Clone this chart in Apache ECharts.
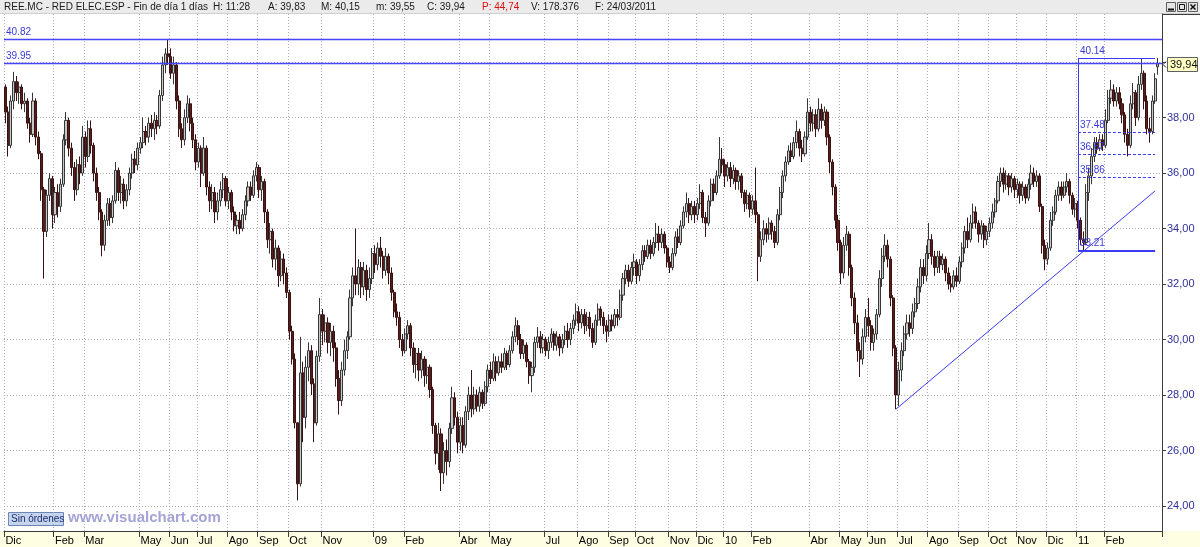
<!DOCTYPE html>
<html><head><meta charset="utf-8">
<script src="https://cdn.jsdelivr.net/npm/echarts@6/dist/echarts.min.js"></script>
<style>html,body{margin:0;padding:0;background:#fff}#c{width:1200px;height:547px}</style>
</head><body><div id="c"></div>
<script>
// Candles [open, close, low, high], 2 sessions per candle
const ohlc2007_08 = [
[39.1,38.2,37.8,39.2],[38.2,37.0,36.6,38.4],[37.0,38.6,36.9,38.8],[38.6,39.3,38.3,39.65],[39.3,38.9,38.6,39.5],[38.9,39.1,38.5,39.3],[39.1,38.5,38.3,39.2],[38.5,38.6,38.2,38.9],[38.6,37.8,37.6,38.7],[37.8,37.4,37.1,38.0],
[37.4,38.6,37.3,38.9],[38.6,37.3,37.0,38.7],[37.3,36.7,36.5,37.5],[36.7,35.4,35.0,36.8],[35.4,33.9,32.2,35.5],[33.9,35.2,33.7,35.4],[35.2,35.8,35.0,36.0],[35.8,34.5,34.0,35.9],[34.5,35.3,34.2,35.5],[35.3,34.8,34.4,35.6],
[34.8,35.6,34.6,35.8],[35.6,37.2,35.5,37.4],[37.2,37.9,37.0,38.2],[37.9,36.9,36.6,38.0],[36.9,36.2,35.9,37.1],[36.2,35.4,35.0,36.4],[35.4,36.3,35.2,36.5],[36.3,36.0,35.6,36.6],[36.0,37.3,35.9,37.7],[37.3,36.6,36.2,37.5],
[36.6,37.6,36.4,37.9],[37.6,37.0,36.7,37.9],[37.0,36.0,35.7,37.1],[36.0,35.3,35.0,36.2],[35.3,34.6,34.3,35.5],[34.6,33.4,33.0,34.7],[33.4,34.3,33.2,34.5],[34.3,34.9,34.1,35.1],[34.9,34.4,34.1,35.1],[34.4,35.0,34.2,35.2],
[35.0,36.1,34.9,36.4],[36.1,35.3,35.0,36.2],[35.3,35.6,34.9,35.9],[35.6,35.0,34.7,35.8],[35.0,35.4,34.8,35.6],[35.4,36.0,35.2,36.2],[36.0,36.5,35.8,36.7],[36.5,36.3,36.0,36.8],[36.3,36.9,36.1,37.1],[36.9,37.1,36.7,37.3],
[37.1,37.5,36.9,38.0],[37.5,37.3,37.0,37.7],[37.3,37.8,37.1,38.0],[37.8,37.6,37.3,38.1],[37.6,37.9,37.2,38.2],[37.9,37.7,37.4,38.1],[37.7,38.8,37.6,39.0],[38.8,39.9,38.6,40.2],[39.9,40.3,39.6,40.5],[40.3,40.2,39.9,40.82],
[40.2,39.6,39.4,40.5],[39.6,39.9,39.2,40.2],[39.9,38.6,38.3,40.0],[38.6,37.6,37.3,38.8],[37.6,37.2,36.9,37.8],[37.2,38.0,37.0,38.3],[38.0,38.5,37.8,38.8],[38.5,37.8,37.5,38.7],[37.8,37.2,36.9,38.0],[37.2,36.4,36.1,37.4],
[36.4,36.9,36.2,37.1],[36.9,36.0,35.5,37.0],[36.0,36.9,35.9,37.3],[36.9,35.5,35.2,37.0],[35.5,35.0,34.6,35.7],[35.0,35.3,34.7,35.6],[35.3,34.6,34.2,35.5],[34.6,35.0,34.3,35.3],[35.0,35.4,34.8,35.7],[35.4,35.8,35.1,36.0],
[35.8,35.0,34.8,35.9],[35.0,35.3,34.7,35.5],[35.3,34.6,34.3,35.4],[34.6,34.1,33.9,34.8],[34.1,34.3,33.8,34.5],[34.3,34.0,33.8,34.6],[34.0,34.5,33.9,34.7],[34.5,35.0,34.3,35.2],[35.0,35.5,34.8,35.7],[35.5,35.2,35.0,35.7],
[35.2,35.9,35.1,36.1],[35.9,36.2,35.7,36.4],[36.2,35.4,35.1,36.3],[35.4,35.7,35.0,35.9],[35.7,34.6,34.2,35.8],[34.6,33.6,33.3,34.7],[33.6,33.9,33.1,34.2],[33.9,32.9,32.6,34.0],[32.9,33.3,32.5,33.6],[33.3,32.3,31.9,33.4],
[32.3,32.9,32.1,33.2],[32.9,32.4,32.0,33.1],[32.4,31.7,31.5,32.6],[31.7,30.3,30.0,31.8],[30.3,29.3,29.1,30.5],[29.3,27.0,26.8,29.5],[27.0,24.8,24.2,27.0],[24.8,28.8,24.7,30.1],[28.8,27.2,26.3,29.2],[27.2,29.0,26.8,29.4],
[29.0,29.6,28.5,29.9],[29.6,28.4,28.0,29.8],[28.4,27.0,26.3,28.6],[27.0,29.4,26.9,29.6],[29.4,30.9,29.2,31.5],[30.9,30.3,29.8,31.1],[30.3,30.6,29.9,30.9],[30.6,29.9,29.5,30.8],[29.9,30.3,29.4,30.6],[30.3,29.7,29.2,30.5],
[29.7,28.6,28.3,29.9],[28.6,27.8,27.3,28.9],[27.8,28.9,27.6,29.2],[28.9,29.6,28.7,30.0],[29.6,30.1,29.3,30.3],[30.1,31.5,30.0,31.8],[31.5,32.3,31.2,32.6],[32.3,32.0,31.6,34.0],[32.0,32.6,31.6,32.9],[32.6,31.9,31.5,32.8],
[31.9,32.5,31.6,32.8],[32.5,31.8,31.4,32.7],[31.8,32.2,31.5,32.6],[32.2,33.1,32.0,33.3]
];
const ohlc2009 = [
[33.1,32.7,32.4,33.4],[32.7,33.3,32.5,33.5],[33.3,33.0,32.6,33.7],[33.0,32.5,32.2,33.2],[32.5,33.0,32.3,33.3],[33.0,32.4,32.0,33.1],
[32.4,31.7,31.4,32.6],[31.7,31.0,30.8,31.8],[31.0,30.8,30.5,31.3],[30.8,30.0,29.7,31.0],[30.0,29.6,29.4,30.2],[29.6,30.2,29.5,30.4],[30.2,30.5,30.0,30.7],[30.5,29.7,29.4,30.6],[29.7,29.1,28.8,29.9],[29.1,29.5,28.6,29.7],
[29.5,28.9,28.5,29.7],[28.9,29.3,28.6,29.6],[29.3,28.7,28.3,29.4],[28.7,29.0,28.4,29.3],[29.0,28.2,27.9,29.1],[28.2,26.9,26.6,28.3],[26.9,25.9,25.5,27.0],[25.9,26.6,25.3,27.0],[26.6,25.2,24.54,26.8],[25.2,26.0,24.8,26.3],
[26.0,25.6,25.1,26.4],[25.6,26.8,25.4,27.0],[26.8,27.9,26.6,28.3],[27.9,27.2,26.9,28.1],[27.2,26.3,25.9,27.4],[26.3,26.9,26.0,27.2],[26.9,26.2,25.9,27.2],[26.2,27.4,26.1,27.6],[27.4,28.0,27.1,28.3],[28.0,27.5,27.2,28.9],
[27.5,28.0,27.3,28.3],[28.0,27.6,27.4,28.2],[27.6,28.1,27.4,28.3],[28.1,27.7,27.5,28.2],[27.7,28.3,27.6,28.5],[28.3,28.9,28.1,29.1],[28.9,28.6,28.4,29.2],[28.6,29.2,28.5,29.5],[29.2,28.8,28.5,29.4],[28.8,29.2,28.7,29.4],
[29.2,29.0,28.8,29.5],[29.0,29.5,28.9,29.7],[29.5,29.1,28.9,29.6],[29.1,29.6,29.0,29.8],[29.6,30.1,29.5,30.3],[30.1,30.5,29.9,30.8],[30.5,30.0,29.8,30.7],[30.0,29.5,29.3,30.2],[29.5,29.8,29.3,30.0],[29.8,29.2,29.0,29.9],
[29.2,28.7,28.4,29.3],[28.7,29.0,28.1,29.2],[29.0,29.9,28.8,30.1],[29.9,30.1,29.7,30.45],[30.1,29.7,29.5,30.3],[29.7,30.0,29.5,30.2],[30.0,29.6,29.4,30.1],[29.6,29.9,29.3,30.1],[29.9,30.2,29.7,30.4],[30.2,29.8,29.6,30.3],
[29.8,30.1,29.6,30.3],[30.1,29.7,29.4,30.2],[29.7,30.0,29.5,30.2],[30.0,30.3,29.8,30.5],[30.3,30.0,29.7,30.6],[30.0,30.4,29.8,30.6],[30.4,30.7,30.2,30.9],[30.7,31.0,30.5,31.3],[31.0,30.6,30.3,31.2],[30.6,30.9,30.4,31.1],
[30.9,30.5,30.2,31.1],[30.5,30.8,30.3,31.0],[30.8,30.4,30.1,31.0],[30.4,29.9,29.7,30.6],[29.9,30.7,29.8,30.9],[30.7,31.1,30.5,31.3],[31.1,30.8,30.5,31.2],[30.8,30.5,30.2,31.0],[30.5,30.3,29.9,30.7],[30.3,30.7,30.1,30.9],
[30.7,30.5,30.3,30.9],[30.5,30.9,30.4,31.1],[30.9,30.8,30.5,31.1],[30.8,31.6,30.7,31.8],[31.6,32.2,31.4,32.4],[32.2,32.5,32.0,32.7],[32.5,32.1,31.9,32.7],[32.1,32.6,32.0,32.8],[32.6,32.8,32.3,33.1],[32.8,32.3,32.0,32.9],
[32.3,32.7,32.1,32.9],[32.7,33.2,32.5,33.4],[33.2,33.0,32.8,33.4],[33.0,33.4,32.9,33.6],[33.4,33.1,32.9,33.6],[33.1,33.5,33.0,33.7],[33.5,33.8,33.3,34.2],[33.8,33.5,33.2,34.1],[33.5,33.8,33.3,34.0],[33.8,33.3,33.1,33.9],
[33.3,32.8,32.6,33.4],[32.8,32.6,32.4,33.0],[32.6,33.1,32.5,33.3],[33.1,33.7,33.0,33.9],[33.7,33.5,33.3,34.0],[33.5,34.1,33.4,34.3],[34.1,34.6,34.0,34.8],[34.6,34.9,34.4,35.3],[34.9,34.5,34.2,35.1],[34.5,34.8,34.3,35.0],
[34.8,34.5,34.2,35.0],[34.5,34.9,34.3,35.1],[34.9,35.3,34.7,35.6],[35.3,34.4,34.2,35.4],[34.4,34.2,33.7,34.6],[34.2,35.0,34.1,35.2],[35.0,35.6,34.8,35.8],[35.6,35.3,35.0,35.8],[35.3,35.9,35.2,36.1],[35.9,36.5,35.8,37.3],
[36.5,36.3,36.0,36.9]
];
const ohlc2010 = [
[36.3,35.9,35.5,36.5],[35.9,36.2,35.7,36.4],[36.2,35.8,35.5,36.4],[35.8,36.1,35.6,36.3],[36.1,35.7,35.4,36.2],[35.7,35.9,35.4,36.1],[35.9,35.3,35.1,36.0],[35.3,34.9,34.6,35.4],[34.9,35.2,34.7,35.4],
[35.2,34.7,34.4,35.3],[34.7,35.0,34.5,35.2],[35.0,34.5,34.2,36.2],[34.5,33.0,32.1,34.6],[33.0,33.6,32.8,33.9],[33.6,34.0,33.4,34.3],[34.0,33.8,33.5,34.2],[33.8,34.2,33.6,34.4],[34.2,33.9,33.6,34.3],[33.9,33.5,33.3,34.1],
[33.5,34.5,33.4,34.7],[34.5,35.3,34.3,35.5],[35.3,35.9,35.1,36.1],[35.9,36.4,35.7,36.6],[36.4,36.8,36.3,37.0],[36.8,36.6,36.4,37.1],[36.6,37.1,36.5,37.3],[37.1,37.5,36.9,37.9],[37.5,36.9,36.6,37.6],[36.9,36.7,36.4,37.2],
[36.7,37.3,36.6,37.5],[37.3,38.2,37.2,38.7],[38.2,37.8,37.5,38.4],[37.8,38.1,37.5,38.3],[38.1,37.6,37.3,38.3],[37.6,38.3,37.5,38.7],[38.3,37.9,37.6,38.5],[37.9,38.2,37.7,38.4],[38.2,37.3,37.0,38.3],[37.3,36.4,36.0,37.4],
[36.4,35.5,35.2,36.5],[35.5,34.3,34.0,35.6],[34.3,33.5,33.2,34.5],[33.5,32.4,32.0,33.6],[32.4,33.4,32.2,33.7],[33.4,33.8,33.2,34.1],[33.8,32.6,32.3,33.9],[32.6,31.5,31.2,32.7],[31.5,30.6,30.2,31.7],[30.6,29.6,29.2,30.9],
[29.6,29.3,28.65,29.9],[29.3,30.1,29.1,30.4],[30.1,30.8,29.9,31.1],[30.8,30.5,30.1,31.5],[30.5,29.9,29.6,30.7],[29.9,30.2,29.6,30.4],[30.2,30.9,30.0,31.1],[30.9,32.2,30.8,32.5],[32.2,33.0,31.9,33.3],[33.0,33.4,32.8,33.8],
[33.4,32.9,32.6,33.6],[32.9,31.5,31.2,33.0],[31.5,29.7,29.4,31.6],[29.7,28.0,27.49,29.8],[28.0,28.9,27.6,29.2],[28.9,29.6,28.5,29.9],[29.6,30.2,29.4,30.5],[30.2,30.6,30.0,30.9],[30.6,30.4,30.1,30.9],[30.4,31.0,30.2,31.3],
[31.0,31.3,30.8,31.5],[31.3,31.9,31.1,32.2],[31.9,32.6,31.7,32.9],[32.6,32.3,32.0,32.9],[32.3,33.1,32.1,33.4],[33.1,33.6,32.9,34.2],[33.6,33.0,32.7,33.8],[33.0,32.6,32.3,33.2],[32.6,33.0,32.4,33.2],[33.0,32.7,32.4,33.2],
[32.7,32.9,32.5,33.1],[32.9,32.4,32.1,33.0],[32.4,32.0,31.8,32.6],[32.0,31.9,31.7,32.3],[31.9,32.3,31.8,32.5],[32.3,32.1,31.9,32.6],[32.1,32.8,32.0,33.0],[32.8,33.3,32.6,33.5],[33.3,33.9,33.1,34.1],[33.9,33.6,33.3,34.4],
[33.6,34.2,33.5,34.5],[34.2,34.6,34.0,34.9],[34.6,34.2,34.0,34.8],[34.2,33.8,33.5,34.3],[33.8,34.1,33.6,34.3],[34.1,33.6,33.3,34.2],[33.6,33.9,33.4,34.1],[33.9,34.2,33.7,34.4],[34.2,34.6,34.0,34.9],[34.6,35.0,34.4,35.1],
[35.0,35.7,34.9,35.9],[35.7,36.0,35.5,36.2],[36.0,35.6,35.3,36.2],[35.6,35.9,35.4,36.1],[35.9,35.5,35.2,36.0],[35.5,35.8,35.3,36.0],[35.8,35.4,35.1,35.9],[35.4,35.6,35.1,35.8],[35.6,35.2,34.9,35.7],[35.2,35.5,35.0,35.7],
[35.5,35.1,34.9,35.6],[35.1,35.6,35.0,35.8],[35.6,36.0,35.4,36.3],[36.0,35.7,35.5,36.2],[35.7,35.9,35.5,36.1],[35.9,34.8,34.6,36.0],[34.8,33.4,33.1,34.9],[33.4,32.9,32.5,33.6],[32.9,33.3,32.7,33.5],[33.3,34.3,33.2,34.6],
[34.3,34.6,34.1,34.8],[34.6,35.2,34.5,35.4],[35.2,35.5,35.0,35.7],[35.5,35.2,35.0,35.7],[35.2,35.5,35.1,35.7],[35.5,35.7,35.3,36.0],[35.7,35.2,34.9,35.8],[35.2,34.7,34.5,35.3],[34.7,34.9,34.4,35.1]
];
const ohlc2011 = [
[34.9,34.3,34.0,35.0],[34.3,33.6,33.4,34.4],[33.6,33.5,33.21,33.9],[33.5,35.3,33.4,35.6],[35.3,35.9,35.0,36.2],[35.9,36.6,35.6,36.9],[36.6,37.1,36.4,37.3],[37.1,36.9,36.7,37.3],[36.9,37.2,36.8,37.4],[37.2,37.0,36.8,37.4],
[37.0,37.9,36.9,38.3],[37.9,38.7,37.8,39.0],[38.7,39.0,38.5,39.36],[39.0,38.6,38.4,39.2],[38.6,38.9,38.4,39.1],[38.9,38.5,38.3,39.1],[38.5,38.1,37.8,38.7],[38.1,37.4,37.1,38.2],[37.4,37.0,36.6,37.6],[37.0,38.5,36.9,38.8],
[38.5,38.9,38.3,39.25],[38.9,38.0,37.7,39.0],[38.0,39.2,37.9,39.5],[39.2,39.6,39.0,40.14],[39.6,38.6,38.3,39.7],[38.6,37.6,37.4,38.8],[37.6,37.5,37.1,38.0],[37.5,38.6,37.4,38.8],[38.6,39.4,38.5,39.6],[39.83,39.94,39.55,40.15]
];
// x-axis month labels: [candle index, label]
const monthTicks = [[0,'Dic'],[18,'Feb'],[29,'Mar'],[49,'May'],[60,'Jun'],[70,'Jul'],[81,'Ago'],[92,'Sep'],[103,'Oct'],[115,'Nov'],
[134,'09'],[145,'Feb'],[165,'Abr'],[176,'May'],[196,'Jul'],[208,'Ago'],[219,'Sep'],[229,'Oct'],[241,'Nov'],[251,'Dic'],
[261,'10'],[271,'Feb'],[292,'Abr'],[303,'May'],[313,'Jun'],[324,'Jul'],[335,'Ago'],[346,'Sep'],[357,'Oct'],[367,'Nov'],[378,'Dic'],
[389,'11'],[399,'Feb']];
const priceTicks = [24,26,28,30,32,34,36,38,40];
const levelLines = [40.82, 39.95];
const fibRange = [389, 417];
const fibSolid = [40.14, 33.21];
const fibDashed = [37.48, 36.67, 35.86];
const trendLine = [[323, 27.49], [417, 35.36]];
const headerItems = [
  ['REE.MC - RED ELEC.ESP - Fin de día 1 días', 4, '#1a1a1a'], ['H: 11:28', 213, '#1a1a1a'], ['A: 39,83', 268, '#1a1a1a'],
  ['M: 40,15', 321, '#1a1a1a'], ['m: 39,55', 376, '#1a1a1a'], ['C: 39,94', 427, '#1a1a1a'], ['P: 44,74', 482, '#e01010'],
  ['V: 178.376', 531, '#1a1a1a'], ['F: 24/03/2011', 595, '#1a1a1a']
];
const lastLabel = '39,94';

const candles = ohlc2007_08.concat(ohlc2009, ohlc2010, ohlc2011);
const categories = candles.map((_, i) => String(i));
categories.push('');
const monthMap = new Map(monthTicks);
const isMonth = (i) => monthMap.has(i);
const FONT = 'Liberation Sans';
const blue = '#3b3bf0';

const mlData = [];
levelLines.forEach(v => mlData.push({yAxis: v, lineStyle:{color: '#4545ff', width:1.3, type:'solid'}, label:{formatter: v.toFixed(2)}}));
fibSolid.forEach(v => mlData.push([{coord:[fibRange[0], v], lineStyle:{color: blue, width: v===fibSolid[1]?2:1.2, type:'solid'}, label:{formatter: v.toFixed(2)}}, {coord:[fibRange[1], v]}]));
fibDashed.forEach(v => mlData.push([{coord:[fibRange[0], v], lineStyle:{color: blue, width:1, type:[3,2]}, label:{formatter: v.toFixed(2)}}, {coord:[fibRange[1], v]}]));
mlData.push([{coord:[fibRange[0], fibSolid[0]], lineStyle:{color: blue, width:1, type:'solid'}, label:{show:false}}, {coord:[fibRange[0], fibSolid[1]]}]);
mlData.push([{coord: trendLine[0], lineStyle:{color: blue, width:1, type:'solid'}, label:{show:false}}, {coord: trendLine[1]}]);

const graphics = [
  {type:'rect', id:'band', z:-5, shape:{x:0,y:531,width:1200,height:16}, style:{fill:'#fefee2'}},
  {type:'rect', id:'hdr', shape:{x:0,y:0,width:1200,height:14}, style:{fill:'#ebebeb'}},
  {type:'line', id:'hdrl', shape:{x1:0,y1:13.5,x2:1200,y2:13.5}, style:{stroke:'#cfcfcf', lineWidth:1}},
  {type:'line', id:'rtop', shape:{x1:1162,y1:14.5,x2:1200,y2:14.5}, style:{stroke:'#3c3c3c', lineWidth:1}},
  {type:'rect', id:'btn', shape:{x:8.5,y:512.5,width:55,height:13}, style:{fill:'#c5d5ee', stroke:'#6d86b4', lineWidth:1}},
  {type:'text', id:'btnt', x:11, y:519, style:{text:'Sin órdenes', font:'10px '+FONT, fill:'#1c2d6e', verticalAlign:'middle'}},
  {type:'text', id:'wm', x:68, y:518, style:{text:'www.visualchart.com', font:'bold 15px '+FONT, fill:'#a3a3d6', verticalAlign:'middle'}},
  {type:'rect', id:'w1', shape:{x:1166.5,y:2.5,width:9,height:9}, style:{fill:'#e4e4e4', stroke:'#606060'}},
  {type:'line', id:'w1l', shape:{x1:1168,y1:9.5,x2:1174,y2:9.5}, style:{stroke:'#101010', lineWidth:2}},
  {type:'rect', id:'w2', shape:{x:1177.5,y:2.5,width:9,height:9}, style:{fill:'#e4e4e4', stroke:'#606060'}},
  {type:'rect', id:'w2r', shape:{x:1179.5,y:4.5,width:5,height:5}, style:{fill:'none', stroke:'#101010', lineWidth:1}},
  {type:'rect', id:'w3', shape:{x:1188.5,y:2.5,width:9,height:9}, style:{fill:'#e4e4e4', stroke:'#606060'}},
  {type:'line', id:'w3a', shape:{x1:1190.5,y1:4.5,x2:1195.5,y2:9.5}, style:{stroke:'#101010', lineWidth:1.5}},
  {type:'line', id:'w3b', shape:{x1:1195.5,y1:4.5,x2:1190.5,y2:9.5}, style:{stroke:'#101010', lineWidth:1.5}}
];
headerItems.forEach((h, k) => graphics.push({type:'text', id:'h'+k, x:h[1], y:7, style:{text:h[0], font:'10px '+FONT, fill:h[2], verticalAlign:'middle'}}));

const option = {
  animation: false,
  backgroundColor: '#ffffff',
  grid: {left: 4, right: 38, top: 14, bottom: 16, containLabel: false},
  xAxis: {
    type: 'category', data: categories, boundaryGap: true,
    axisLine: {show: true, lineStyle: {color: '#3c3c3c', width: 1}},
    axisTick: {show: true, interval: isMonth, length: 6, lineStyle: {color: '#3c3c3c'}},
    axisLabel: {interval: isMonth, formatter: (v, i) => monthMap.get(i) || '', align: 'left', color: '#000', fontSize: 11, fontFamily: FONT, margin: 4, hideOverlap: false},
    splitLine: {show: true, interval: isMonth, lineStyle: {color: '#a9a9c4', width: 1, type: [1, 2]}}
  },
  yAxis: {
    type: 'value', position: 'right', min: 23.099, max: 41.736,
    axisLine: {show: true, lineStyle: {color: '#3c3c3c', width: 1}},
    axisTick: {show: true, customValues: priceTicks, length: 4, lineStyle: {color: '#3c3c3c'}},
    axisLabel: {customValues: priceTicks, formatter: v => v.toFixed(2).replace('.', ','), color: '#2e2e9c', fontSize: 11, fontFamily: FONT, margin: 5},
    splitLine: {show: true, lineStyle: {color: '#b3a9a9', width: 1, type: [1, 2]}}
  },
  series: [{
    type: 'candlestick', data: candles, barWidth: 2.6,
    itemStyle: {color: '#c9c9c9', color0: '#571e1e', borderColor: '#363636', borderColor0: '#3a1111', borderWidth: 1},
    markLine: {
      symbol: ['none', 'none'], silent: true, animation: false,
      lineStyle: {color: '#4545ff', width: 1.3, type: 'solid'},
      label: {show: true, position: 'insideStartTop', color: '#3a3ad8', fontSize: 10, fontFamily: FONT, distance: 2},
      data: mlData
    }
  }],
  graphic: {elements: graphics}
};

const chart = echarts.init(document.getElementById('c'), null, {renderer: 'canvas'});
chart.setOption(option);
const last = candles[candles.length - 1];
const p = chart.convertToPixel({xAxisIndex: 0, yAxisIndex: 0}, [candles.length - 1, last[1]]);
const ly = Math.round(p[1]) + 0.5;
chart.setOption({graphic: {elements: [
  {type:'rect', id:'lastbox', z:100, shape:{x:1167.5,y:ly-7,width:30,height:14}, style:{fill:'#ffffc4', stroke:'#606060', lineWidth:1}},
  {type:'polyline', id:'arr', z:101, shape:{points:[[1166,ly-3],[1163,ly],[1166,ly+3]]}, style:{stroke:'#303030', fill:'none', lineWidth:1}},
  {type:'text', id:'lasttxt', z:101, x:1170, y:ly, style:{text:lastLabel, font:'11px '+FONT, fill:'#101010', verticalAlign:'middle'}}
]}});
</script>
</body></html>
